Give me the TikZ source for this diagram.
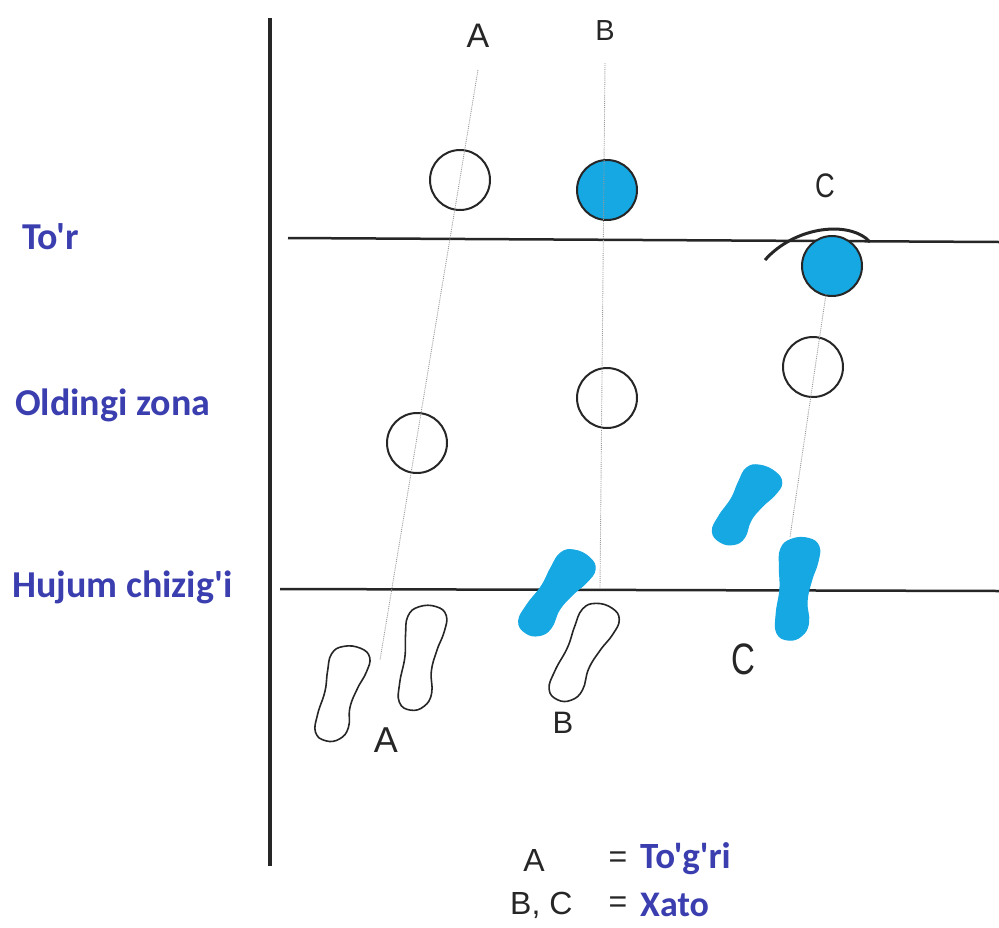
\documentclass[tikz,border=0pt]{standalone}
\usepackage{fontspec}
\setmainfont{Liberation Sans}
\newfontfamily\zonefont{Carlito}
\definecolor{zoneblue}{RGB}{58,62,175}
\definecolor{ballblue}{RGB}{22,168,226}
\tikzset{
  ball/.style={circle,draw=black!85,line width=2pt,minimum size=60pt,inner sep=0pt},
  hitball/.style={ball,fill=ballblue},
  zonelbl/.style={text=zoneblue,font=\zonefont\bfseries\fontsize{38}{40}\selectfont,anchor=west,inner sep=0pt},
  letter/.style={font=\fontsize{32}{34}\selectfont,text=black!85,inner sep=0pt},
  track/.style={densely dotted,black!40,line width=0.9pt},
  foot/.pic={\path[pic actions] plot[smooth cycle,tension=0.75] coordinates
    {(-18,-36) (-8,-46) (9,-48) (20,-41) (20,-26) (15,-8) (12,12) (15,32) (9,45) (-4,50) (-16,44) (-18,26) (-16,2) (-18,-18)};},
  emptyfoot/.style={draw=black!85,line width=1.6pt},
  fullfoot/.style={draw=ballblue,fill=ballblue,line width=1pt}
}
\begin{document}
\begin{tikzpicture}[x=1pt,y=-1pt]
\useasboundingbox (0,0) rectangle (999,927);
% ---------- field lines ----------
\draw[line width=3.5pt,black!85] (270,18) -- (270,866);
\draw[line width=2.5pt,black!85] (288,238) -- (999,242);
\draw[line width=2.5pt,black!85] (280,589) -- (999,591);
\node[zonelbl] (tor) at (22,237) {To'r};
\node[zonelbl] (zona) at (15,405) {Oldingi zona};
\node[zonelbl] (hujum) at (12,587) {Hujum chizig'i};
% ---------- balls ----------
\node[ball] (a1) at (460,180) {};
\node[ball] (a2) at (417,443) {};
\node[hitball] (b1) at (607,190) {};
\node[ball] (b2) at (607,398) {};
\node[hitball] (c1) at (832,266) {};
\node[ball] (c2) at (813,367) {};
\draw[line width=3pt,black!85] (765,260) .. controls (795,226) and (850,220) .. (870,242);
% ---------- footprints ----------
\pic[emptyfoot,rotate=-13] at (341,693) {foot};
\pic[emptyfoot,rotate=-7,yscale=1.08] at (421,657) {foot};
\pic[emptyfoot,rotate=-24,yscale=1.08] at (583,652) {foot};
\pic[fullfoot,rotate=-33] at (556,593) {foot};
\pic[fullfoot,rotate=-30,yscale=0.9] at (746,505) {foot};
\pic[fullfoot,rotate=-4,yscale=1.05] at (796,588) {foot};
% ---------- shot lines ----------
\node[letter,font=\fontsize{34}{36}\selectfont] (topa) at (478,36) {A};
\node[letter,font=\fontsize{29}{30}\selectfont] (topb) at (605,31) {B};
\node[letter,xscale=0.8,font=\fontsize{34}{36}\selectfont] (topc) at (825,186) {C};
\coordinate (enda) at (380,660);
\coordinate (endb) at (600,588);
\coordinate (startc) at (826,294);
\coordinate (endc) at (790,537);
\draw[track] (topa.south) ++(0,22) -- (enda);
\draw[track] (topb.south) ++(0,22) -- (endb);
\draw[track] (startc) -- (endc);
\node[letter,font=\fontsize{36}{38}\selectfont] (bota) at (386,740) {A};
\node[letter,font=\fontsize{31}{33}\selectfont] (botb) at (563,723) {B};
\node[letter,xscale=0.75,font=\fontsize{44}{46}\selectfont] (botc) at (743,659) {C};
% ---------- legend ----------
\node[letter] (lega) at (534,860) {A};
\node[letter,anchor=west] (legbc) at (510,905) {B, C};
\node[letter] (eq1) at (618,860) {=};
\node[letter] (eq2) at (618,905) {=};
\node[zonelbl,font=\zonefont\bfseries\fontsize{37}{40}\selectfont] (togri) at (640,859) {To'g'ri};
\node[zonelbl,font=\zonefont\bfseries\fontsize{36}{40}\selectfont] (xato) at (640,905) {Xato};
\end{tikzpicture}
\end{document}
